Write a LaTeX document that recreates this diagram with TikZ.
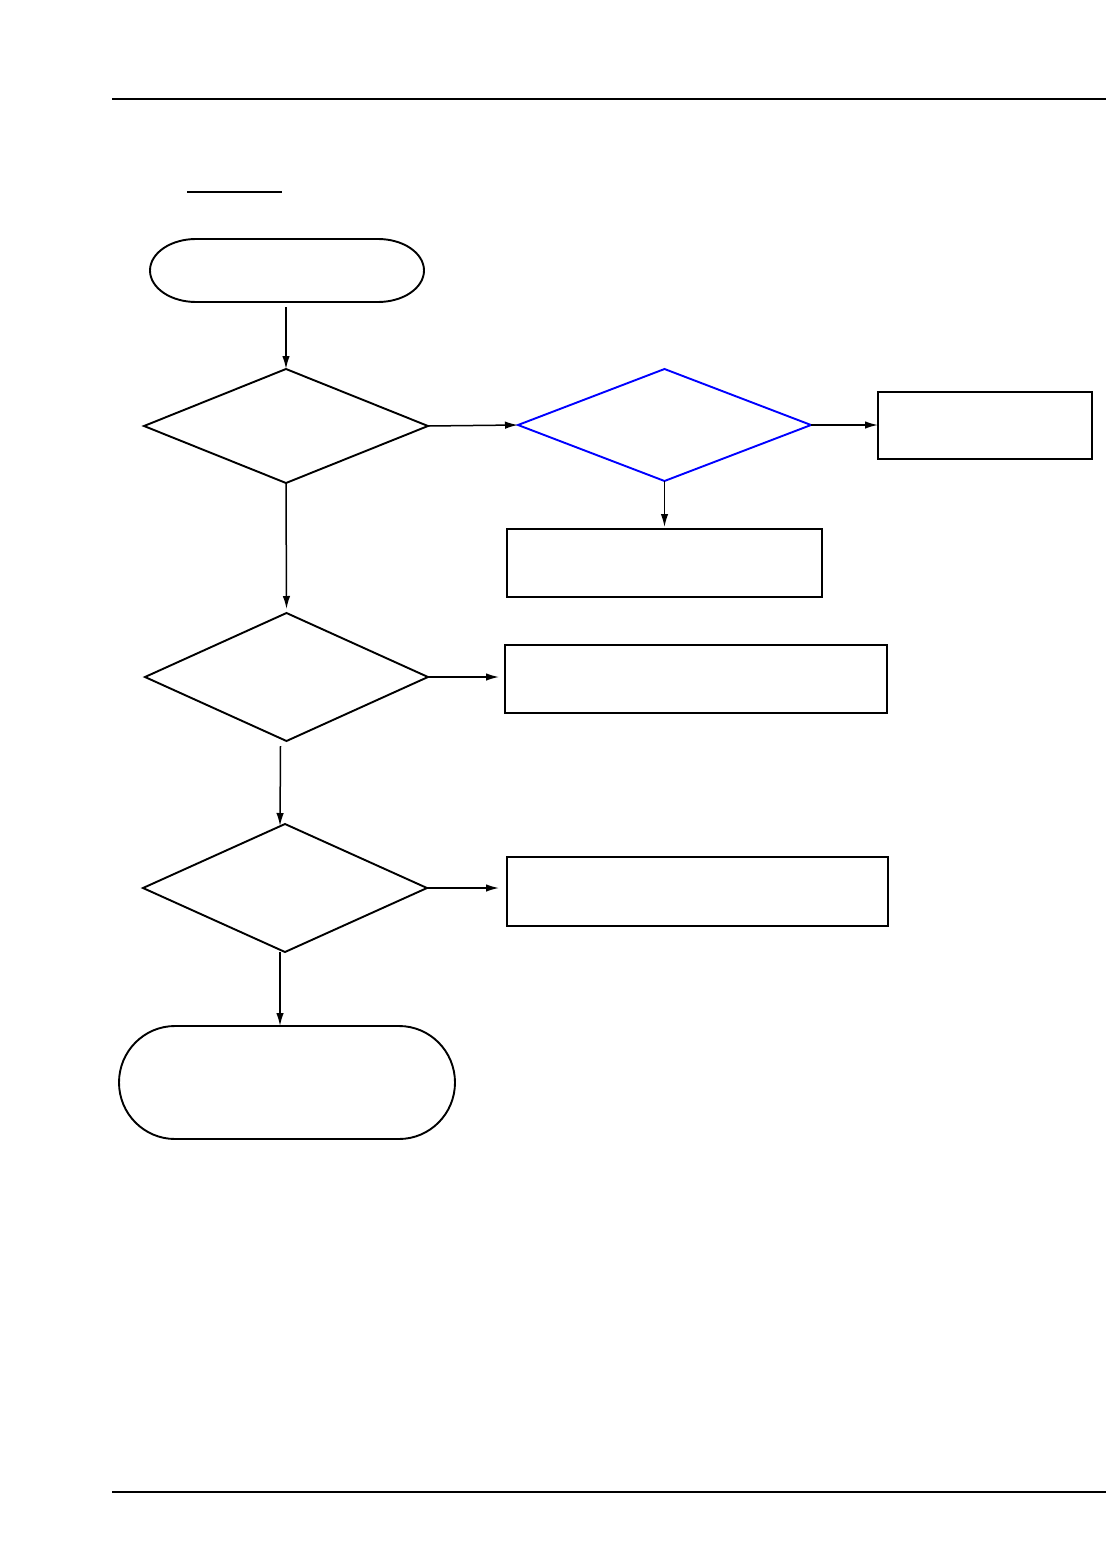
\documentclass[tikz,border=0pt]{standalone}
\usetikzlibrary{shapes.geometric,arrows.meta}
\begin{document}
\begin{tikzpicture}[x=1pt,y=1pt,
  ln/.style={line width=1.9pt,black},
  dia/.style={diamond,draw,line width=1.9pt,inner sep=0pt,outer sep=0pt},
  boxn/.style={rectangle,draw,line width=1.9pt,inner sep=0pt,outer sep=0pt},
  termn/.style={rectangle,draw=none,inner sep=0pt,outer sep=0pt},
  arr/.style={line width=1.5pt,-{Latex[length=13pt,width=7.5pt]}}]
\useasboundingbox (0,0) rectangle (1107,-1554);
% page rules
\coordinate (tl1) at (112,-99);
\coordinate (tl2) at (1106,-99);
\coordinate (bl1) at (112,-1492);
\coordinate (bl2) at (1106,-1492);
\coordinate (ul1) at (187,-192);
\coordinate (ul2) at (282,-192);
\draw[line width=1.2pt] (tl1) -- (tl2);
\draw[line width=1.2pt] (bl1) -- (bl2);
\draw[line width=1.2pt] (ul1) -- (ul2);
% start terminal
\node[termn,minimum width=274pt,minimum height=63pt] (st) at (287,-270.5) {};
\draw[ln] ([xshift=46pt]st.north west) -- ([xshift=-46pt]st.north east)
  arc[start angle=90,end angle=-90,x radius=46pt,y radius=31.5pt]
  -- ([xshift=46pt]st.south west)
  arc[start angle=270,end angle=90,x radius=46pt,y radius=31.5pt] -- cycle;
% diamonds
\node[dia,minimum width=284pt,minimum height=114pt] (d1) at (286,-426) {};
\node[dia,draw=blue,minimum width=293pt,minimum height=112pt] (d2) at (664.5,-425) {};
\node[dia,minimum width=283pt,minimum height=128pt] (d3) at (286.5,-677) {};
\node[dia,minimum width=284pt,minimum height=128pt] (d4) at (285,-888) {};
% boxes
\node[boxn,minimum width=214pt,minimum height=67pt] (r1) at (985,-425.5) {};
\node[boxn,minimum width=315pt,minimum height=68pt] (r2) at (664.5,-563) {};
\node[boxn,minimum width=382pt,minimum height=68pt] (r3) at (696,-679) {};
\node[boxn,minimum width=381pt,minimum height=69pt] (r4) at (697.5,-891.5) {};
% end terminal
\node[termn,minimum width=336pt,minimum height=113pt] (en) at (287,-1082.5) {};
\draw[ln] ([xshift=56pt]en.north west) -- ([xshift=-56pt]en.north east)
  arc[start angle=90,end angle=-90,x radius=56pt,y radius=56.5pt]
  -- ([xshift=56pt]en.south west)
  arc[start angle=270,end angle=90,x radius=56pt,y radius=56.5pt] -- cycle;
% connectors
\draw[arr] ([yshift=-5pt]st.south -| d1.north) -- (d1.north);
\draw[arr] (d1.east) -- (d2.west);
\draw[arr] (d2.east) -- (r1.west |- d2.east);
\draw[arr] (d2.south) -- ([yshift=2pt]r2.north);
\draw[arr] (d1.south) -- ([yshift=4pt]d3.north);
\draw[arr] (d3.east) -- ([xshift=-6pt]r3.west |- d3.east);
\draw[arr] ([xshift=-6pt,yshift=-5pt]d3.south) -- ([xshift=-5pt,yshift=-2pt]d4.north);
\draw[arr] (d4.east) -- ([xshift=-8pt]r4.west |- d4.east);
\draw[arr] ([xshift=-5pt]d4.south) -- ([xshift=-7pt]en.north);
\end{tikzpicture}
\end{document}
